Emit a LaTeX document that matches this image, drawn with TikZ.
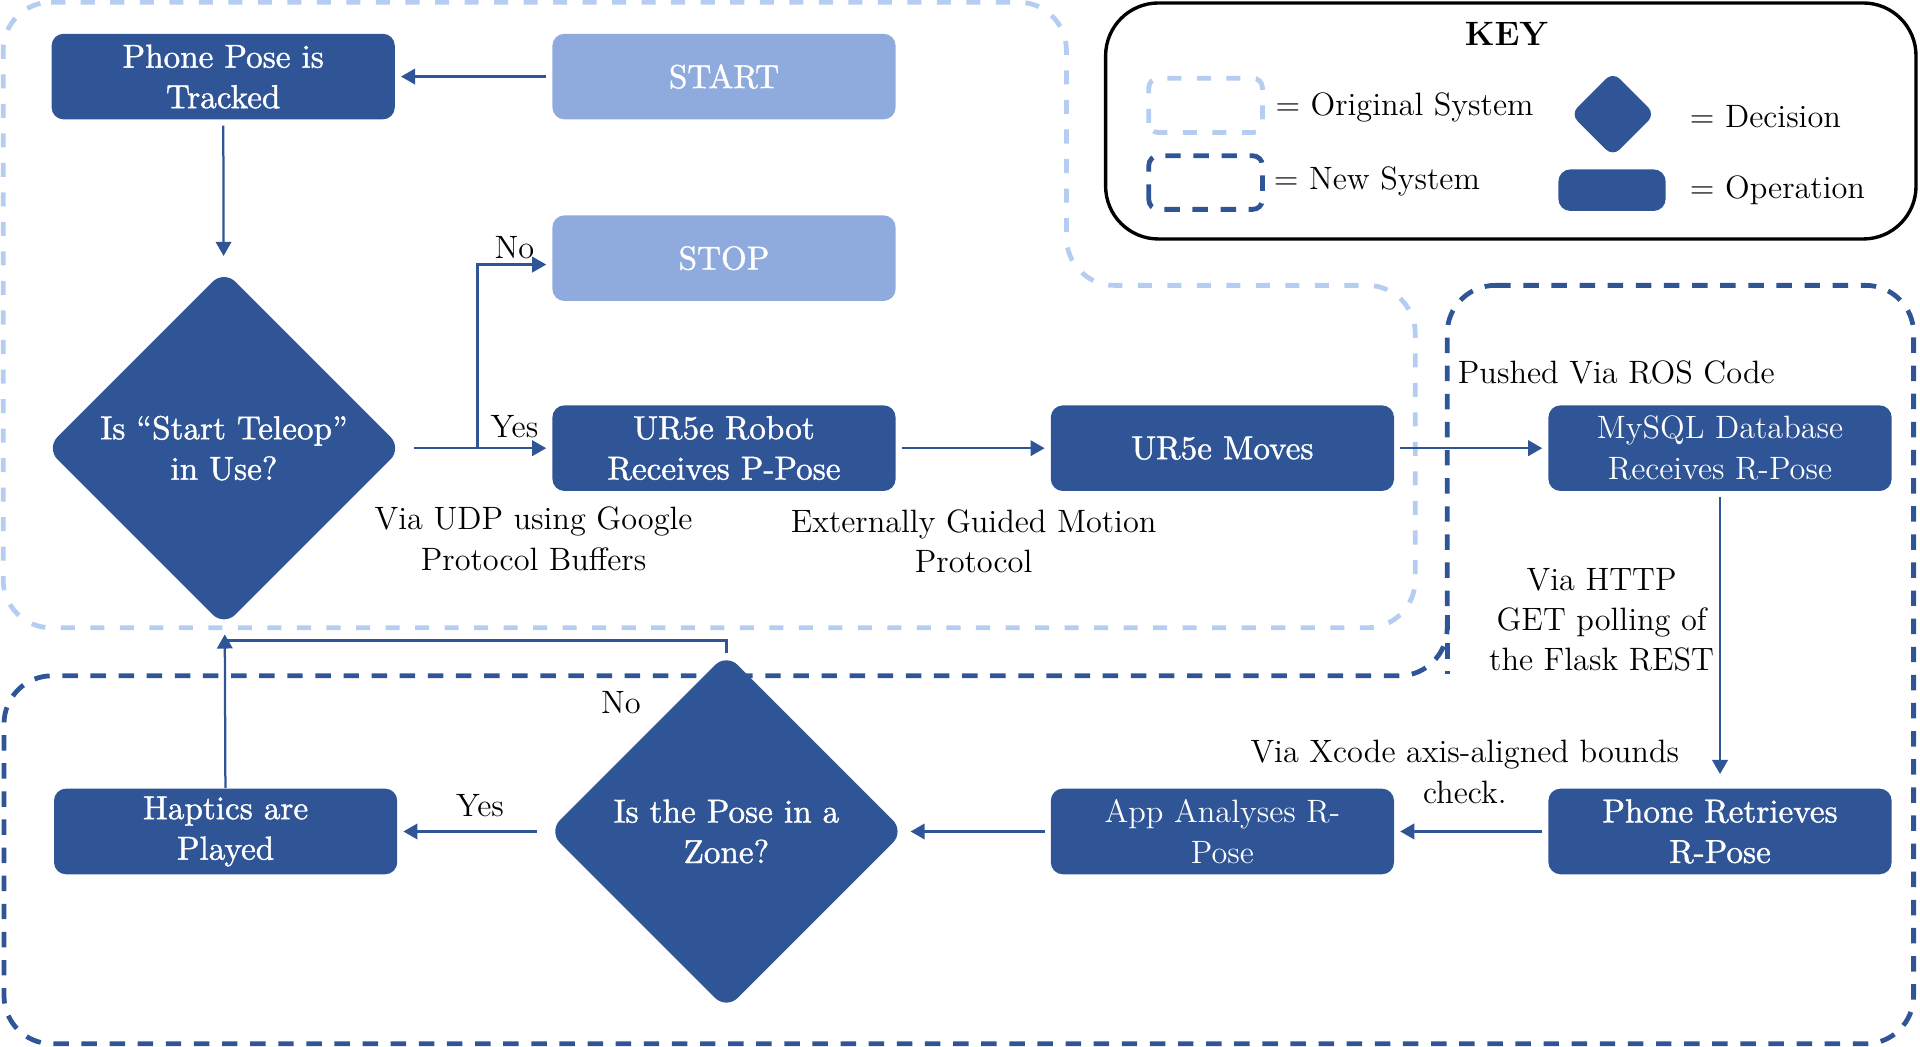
\documentclass[tikz,border=0pt]{standalone}
\usepackage{fontspec}
\usepackage{tikz}
\usepackage{xcolor}
\usetikzlibrary{shapes.geometric,arrows.meta}

\newfontfamily\heavy{lmroman10-regular.otf}[FakeBold=1.2, Ligatures=TeX]

\definecolor{darkblue}{HTML}{2F5597}
\definecolor{lightblue}{HTML}{8FAADC}
\definecolor{paleblue}{HTML}{B4CDF0}

\begin{document}
\begin{tikzpicture}[font=\fontsize{11.5}{14.4}\selectfont,
    op/.style={rectangle, rounded corners=0.15cm, fill=darkblue, text=white, align=center, minimum width=4.29cm, minimum height=1.07cm, inner sep=0pt},
    heavyop/.style={op, font=\fontsize{11.8}{14.4}\heavy},
    endop/.style={heavyop, fill=lightblue},
    dec/.style={diamond, rounded corners=0.2cm, fill=darkblue, text=white, align=center, minimum width=4.45cm, minimum height=4.45cm, inner sep=0pt, font=\fontsize{11.8}{14.4}\heavy},
    note/.style={align=center},
    arr/.style={draw=darkblue, line width=0.8pt, -{Triangle[length=5pt,width=5.5pt]}},
    oldsys/.style={draw=paleblue, line width=1.7pt, dash pattern=on 5pt off 5.5pt, rounded corners=0.6cm},
    newsys/.style={draw=darkblue, line width=1.7pt, dash pattern=on 5.5pt off 4.5pt, rounded corners=0.6cm}]
                \useasboundingbox (0,0) rectangle (24,13.0875);

                % system outlines
                \draw[oldsys] (0.04,13.06) -- (13.33,13.06) -- (13.33,9.52) -- (17.69,9.52) -- (17.69,5.24) -- (0.04,5.24) -- cycle;
                \draw[newsys] (18.09,9.52) -- (23.92,9.52) -- (23.92,0.04) -- (0.05,0.04) -- (0.05,4.64) -- (18.09,4.64) -- cycle;
                \draw[newsys] (18.09,5.4) -- (18.09,4.66);

                % key
                \draw[line width=1.2pt, rounded corners=0.66cm] (13.82,10.10) rectangle (23.95,13.05);
                \node[font=\fontsize{12}{14.4}\selectfont\bfseries] (Key) at (18.83,12.66) {KEY};
                \draw[oldsys, rounded corners=0.12cm] (14.36,11.43) rectangle (15.78,12.11);
                \node[anchor=west] (KOld) at (15.82,11.74) {= Original System};
                \draw[newsys, rounded corners=0.12cm] (14.36,10.47) rectangle (15.78,11.14);
                \node[anchor=west] (KNew) at (15.80,10.82) {= New System};
                \node[dec, minimum width=1.06cm, minimum height=1.06cm, rounded corners=0.12cm] (KDec) at (20.16,11.66) {};
                \node[anchor=west] (KDecT) at (21.0,11.63) {= Decision};
                \node[op, minimum width=1.34cm, minimum height=0.52cm] (KOp) at (20.15,10.71) {};
                \node[anchor=west] (KOpT) at (21.0,10.71) {= Operation};

                % flow
                \node[heavyop] (Track) at (2.79,12.13) {Phone Pose is\\Tracked};
                \node[endop] (Start) at (9.05,12.13) {START};
                \node[endop] (Stop) at (9.05,9.86) {STOP};
                \node[dec] (D1) at (2.80,7.485) {Is “Start Teleop”\\in Use?};
                \node[heavyop] (Robot) at (9.05,7.485) {UR5e Robot\\Receives P-Pose};
                \node[heavyop] (Moves) at (15.28,7.485) {UR5e Moves};
                \node[op] (SQL) at (21.5,7.485) {MySQL Database\\Receives R-Pose};
                \node[heavyop] (Retr) at (21.5,2.694) {Phone Retrieves\\R-Pose};
                \node[op] (App) at (15.28,2.694) {App Analyses R-\\Pose};
                \node[dec] (D2) at (9.08,2.694) {Is the Pose in a\\Zone?};
                \node[heavyop] (Hap) at (2.82,2.694) {Haptics are\\Played};

                \node[note] (UDP) at (6.67,6.35) {Via UDP using Google\\Protocol Buffers};
                \node[note] (EGM) at (12.17,6.32) {Externally Guided Motion\\Protocol};
                \node[anchor=west] (ROS) at (18.1,8.43) {Pushed Via ROS Code};
                \node[note] (HTTP) at (20.02,5.34) {Via HTTP\\GET polling of\\the Flask REST};
                \node[note] (Xcode) at (18.31,3.44) {Via Xcode axis-aligned bounds\\check.};

                \node (No1) at (6.43,9.99) {No};
                \node (Yes1) at (6.43,7.76) {Yes};
                \node (Yes2) at (6.0,3.02) {Yes};
                \node (No2) at (7.76,4.30) {No};

                \coordinate (Fork) at (5.97,7.485);
                \coordinate (Join) at (2.80,5.08);

                \foreach \a/\b in {Start/Track, Robot/Moves, Moves/SQL, Retr/App, App/D2}
                    \draw[arr, shorten <=2pt, shorten >=2pt] (\a) -- (\b);
                \draw[arr, shorten <=4pt, shorten >=2pt] (D2) -- (Hap);
                \draw[arr, shorten <=2pt, shorten >=5pt] (Track) -- (D1);
                \draw[arr, shorten <=4pt, shorten >=2pt] (D1) -- (Robot);
                \draw[arr, shorten >=2pt] (Fork) |- ([yshift=-0.08cm]Stop.west);
                \draw[arr, shorten <=2pt, shorten >=5pt] (SQL) -- (Retr);
                \draw[arr, shorten >=3pt] (Hap) -- (D1);
                \draw[darkblue, line width=0.8pt] (D2) -- (D2.north |- Join) -- (Join);
            \end{tikzpicture}
\end{document}
